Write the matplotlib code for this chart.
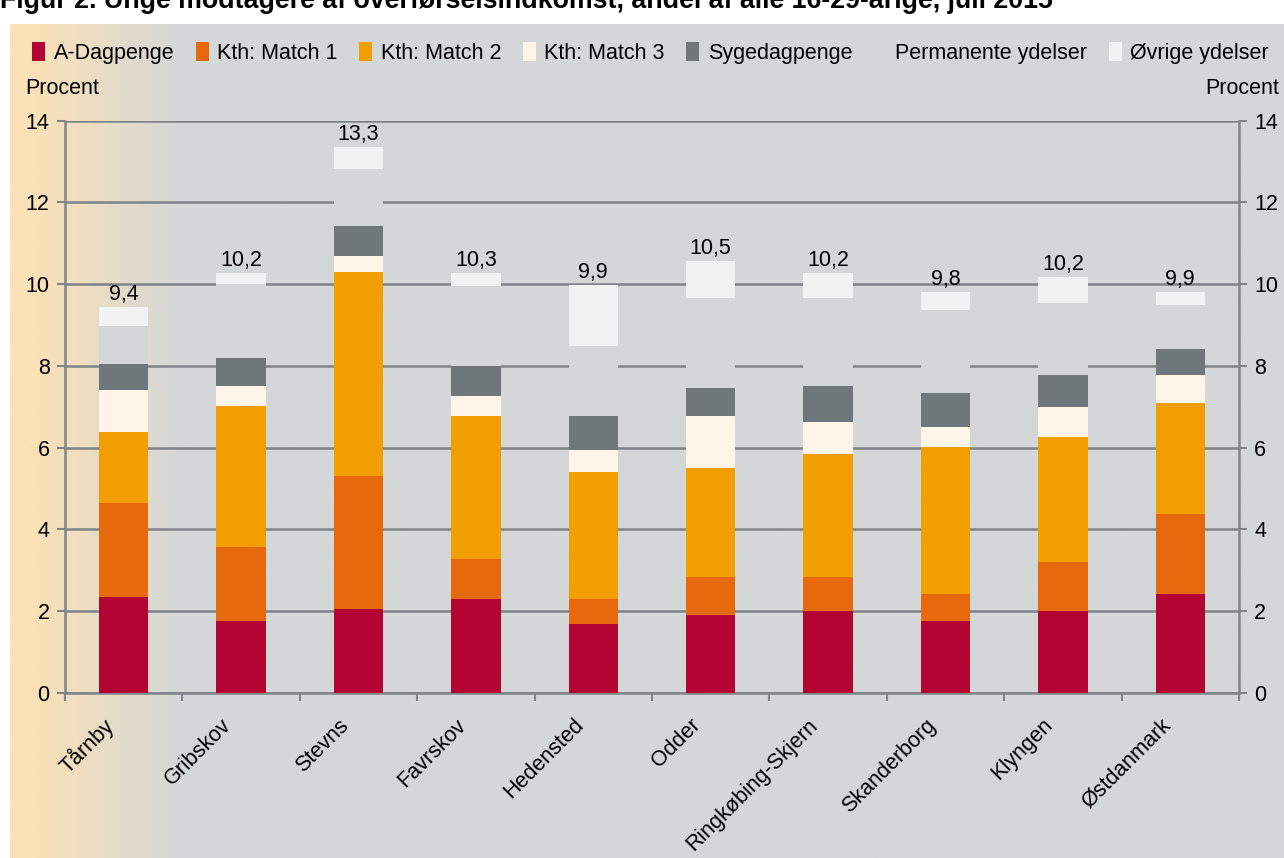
import matplotlib
matplotlib.use("Agg")
import matplotlib.pyplot as plt
import matplotlib.transforms as mtransforms
import numpy as np
from matplotlib.colors import to_rgb
from matplotlib.patches import Patch

plt.rcParams["font.family"] = ["Liberation Sans", "DejaVu Sans"]

# values (percent of all 16-29 year olds)
kommuner = ["Tårnby", "Gribskov", "Stevns", "Favrskov", "Hedensted", "Odder",
            "Ringkøbing-Skjern", "Skanderborg", "Klyngen", "Østdanmark"]
a_dagpenge = [2.34, 1.76, 2.05, 2.29, 1.68, 1.90, 2.00, 1.75, 2.00, 2.43]
match1 = [2.31, 1.81, 3.26, 0.98, 0.61, 0.94, 0.84, 0.68, 1.21, 1.96]
match2 = [1.74, 3.45, 4.99, 3.51, 3.11, 2.66, 3.00, 3.58, 3.05, 2.71]
match3 = [1.02, 0.49, 0.39, 0.48, 0.54, 1.28, 0.79, 0.49, 0.73, 0.67]
sygedagpenge = [0.63, 0.69, 0.73, 0.74, 0.84, 0.67, 0.88, 0.83, 0.78, 0.64]
permanente = [0.94, 1.80, 1.39, 1.95, 1.72, 2.21, 2.15, 2.05, 1.76, 1.08]
oevrige = [0.46, 0.27, 0.55, 0.32, 1.48, 0.91, 0.61, 0.43, 0.65, 0.33]
totals = ["9,4", "10,2", "13,3", "10,3", "9,9", "10,5", "10,2", "9,8", "10,2", "9,9"]

series = [
    ("A-Dagpenge", a_dagpenge, "#B30433"),
    ("Kth: Match 1", match1, "#E8680C"),
    ("Kth: Match 2", match2, "#F39E00"),
    ("Kth: Match 3", match3, "#FEF5E8"),
    ("Sygedagpenge", sygedagpenge, "#70777A"),
    ("Permanente ydelser", permanente, "#D4D7D8"),
    ("Øvrige ydelser", oevrige, "#F1F3F2"),
]

BG = "#D4D7D8"
GRID = "#7E8487"
W, H = 1284, 858
FS = 15.5

fig = plt.figure(figsize=(W / 100, H / 100), dpi=100)
fig.patch.set_facecolor("white")

# background panel: flat orange at the left edge, fading into grey
bg_ax = fig.add_axes([10 / W, 0, 1 - 10 / W, (H - 24) / H])
bg_ax.set_axis_off()
px = np.linspace(10, W, 600)
t = np.clip((px - 35) / (180 - 35), 0, 1)[:, None]
c0 = np.array(to_rgb("#FAE1B7"))
c1 = np.array(to_rgb(BG))
grad = (c0 * (1 - t) + c1 * t)[None, :, :]
bg_ax.imshow(grad, aspect="auto", extent=[0, 1, 0, 1], interpolation="bilinear")
bg_ax.set_xlim(0, 1)
bg_ax.set_ylim(0, 1)

ax = fig.add_axes([65 / W, (H - 693) / H, (1239 - 65) / W, (693 - 120.7) / H])
ax.set_facecolor("none")

x = np.arange(len(kommuner))
bottom = np.zeros(len(kommuner))
for name, vals, color in series:
    ax.bar(x, vals, width=0.42, bottom=bottom, color=color, zorder=3, linewidth=0)
    bottom = bottom + np.array(vals)

for xi, top, lab in zip(x, bottom, totals):
    ax.text(xi, top + 0.05, lab, ha="center", va="bottom", fontsize=FS, zorder=4)

ax.set_xlim(-0.5, len(kommuner) - 0.5)
ax.set_ylim(0, 14)
ax.set_yticks(np.arange(0, 15, 2))
ax.grid(axis="y", color=GRID, linewidth=1.8, zorder=1)
ax.set_axisbelow(True)

ax.set_xticks(np.arange(-0.5, len(kommuner), 1))
ax.set_xticklabels([])
ax.set_xticks(x, minor=True)
ax.set_xticklabels(kommuner, minor=True, rotation=45, ha="right", va="center",
                   rotation_mode="anchor", fontsize=FS)
ax.tick_params(axis="x", which="minor", length=0, pad=16)
ax.tick_params(axis="x", which="major", length=6, width=1.5, color=GRID, direction="out")
ax.tick_params(axis="y", which="both", labelsize=FS, length=6, width=1.5, color=GRID,
               left=True, right=True, labelleft=True, labelright=True, pad=5)

# nudge the rotated names down-left, as in the reference
shift = mtransforms.ScaledTranslation(-0.13, -0.07, fig.dpi_scale_trans)
for lbl in ax.get_xticklabels(minor=True):
    lbl.set_transform(lbl.get_transform() + shift)

for side in ["left", "right", "bottom"]:
    ax.spines[side].set_color(GRID)
    ax.spines[side].set_linewidth(1.8)
ax.spines["top"].set_visible(False)

fig.text(25 / W, 1 - 88 / H, "Procent", fontsize=FS, ha="left", va="center")
fig.text(1279 / W, 1 - 88 / H, "Procent", fontsize=FS, ha="right", va="center")

handles = [Patch(facecolor=c, edgecolor="none", label=nm) for nm, _, c in series]
fig.legend(handles=handles, loc="center left", bbox_to_anchor=(32 / W, 1 - 53 / H),
           ncol=7, frameon=False, fontsize=FS, handlelength=0.6, handleheight=0.95,
           handletextpad=0.4, columnspacing=1.0, borderaxespad=0, borderpad=0)

fig.text(0.0, 1 - 8 / H, "Figur 2. Unge modtagere af overførselsindkomst, andel af alle 16-29-årige, juli 2015",
         fontsize=19.3, fontweight="bold", ha="left", va="baseline")

fig.savefig("out.png", dpi=100)
